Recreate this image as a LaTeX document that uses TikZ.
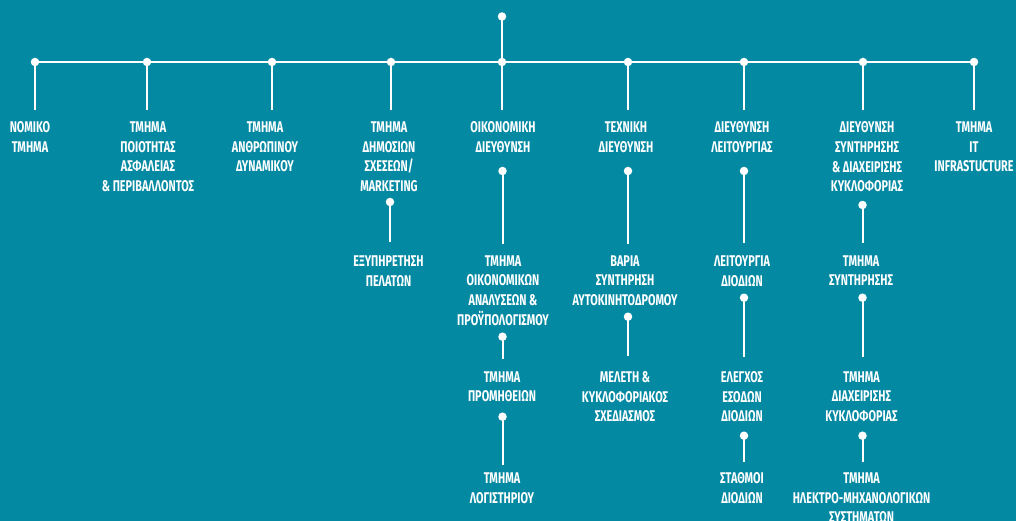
\documentclass[tikz,border=0pt]{standalone}
\usepackage{fontspec}
\setmainfont{Fira Sans}[FakeStretch=0.7]
\definecolor{bg}{RGB}{4,137,163}
\begin{document}
\begin{tikzpicture}[x=1pt,y=-1pt,
  dot/.style={circle,fill=white,inner sep=0pt,minimum size=8.5pt},
  conn/.style={draw=white,line width=2pt},
  lbl/.style={text=white,align=center,inner sep=0pt,anchor=north,
    font=\fontsize{15.5}{19.7}\selectfont\bfseries}]
\fill[bg] (0,0) rectangle (1016,521);
\useasboundingbox (0,0) rectangle (1016,521);

% top and bar
\node[dot] (top) at (502,16.5) {};
\node[dot] (b1) at (35,62) {};
\node[dot] (b2) at (147,62) {};
\node[dot] (b3) at (272,62) {};
\node[dot] (b4) at (391,62) {};
\node[dot] (b5) at (502,62) {};
\node[dot] (b6) at (628,62) {};
\node[dot] (b7) at (744,62) {};
\node[dot] (b8) at (863,62) {};
\node[dot] (b9) at (974,62) {};
\draw[conn] (top.center) -- (b5.center);
\draw[conn] (b1.center) -- (b9.center);
\foreach \i/\x in {1/35,2/147,3/272,4/391,5/502,6/628,7/744,8/863,9/974}{
  \coordinate (e\i) at (\x,110.5);
  \draw[conn] (b\i.center) -- (e\i);
}

% top-level labels
\node[lbl] (t1) at (30,121.6) {ΝΟΜΙΚΟ\\ΤΜΗΜΑ};
\node[lbl] (t2) at (148,121.6) {ΤΜΗΜΑ\\ΠΟΙΟΤΗΤΑΣ\\ΑΣΦΑΛΕΙΑΣ\\\& ΠΕΡΙΒΑΛΛΟΝΤΟΣ};
\node[lbl] (t3) at (265,121.6) {ΤΜΗΜΑ\\ΑΝΘΡΩΠΙΝΟΥ\\ΔΥΝΑΜΙΚΟΥ};
\node[lbl] (t4) at (389,121.6) {ΤΜΗΜΑ\\ΔΗΜΟΣΙΩΝ\\ΣΧΕΣΕΩΝ/\\MARKETING};
\node[lbl] (t5) at (503,121.6) {ΟΙΚΟΝΟΜΙΚΗ\\ΔΙΕΥΘΥΝΣΗ};
\node[lbl] (t6) at (626,121.6) {ΤΕΧΝΙΚΗ\\ΔΙΕΥΘΥΝΣΗ};
\node[lbl] (t7) at (742,121.6) {ΔΙΕΥΘΥΝΣΗ\\ΛΕΙΤΟΥΡΓΙΑΣ};
\node[lbl] (t8) at (867,121.6) {ΔΙΕΥΘΥΝΣΗ\\ΣΥΝΤΗΡΗΣΗΣ\\\& ΔΙΑΧΕΙΡΙΣΗΣ\\ΚΥΚΛΟΦΟΡΙΑΣ};
\node[lbl] (t9) at (974,121.6) {ΤΜΗΜΑ\\IT\\INFRASTUCTURE};

% sub-level labels
\node[lbl] (s4a) at (388.5,255.5) {ΕΞΥΠΗΡΕΤΗΣΗ\\ΠΕΛΑΤΩΝ};
\node[lbl] (s5a) at (503,255.3) {ΤΜΗΜΑ\\ΟΙΚΟΝΟΜΙΚΩΝ\\ΑΝΑΛΥΣΕΩΝ \&\\ΠΡΟΫΠΟΛΟΓΙΣΜΟΥ};
\node[lbl] (s5b) at (502,371.3) {ΤΜΗΜΑ\\ΠΡΟΜΗΘΕΙΩΝ};
\node[lbl] (s5c) at (502,472.6) {ΤΜΗΜΑ\\ΛΟΓΙΣΤΗΡΙΟΥ};
\node[lbl] (s6a) at (625,255.3) {ΒΑΡΙΑ\\ΣΥΝΤΗΡΗΣΗ\\ΑΥΤΟΚΙΝΗΤΟΔΡΟΜΟΥ};
\node[lbl] (s6b) at (625,371.3) {ΜΕΛΕΤΗ \&\\ΚΥΚΛΟΦΟΡΙΑΚΟΣ\\ΣΧΕΔΙΑΣΜΟΣ};
\node[lbl] (s7a) at (742,255.3) {ΛΕΙΤΟΥΡΓΙΑ\\ΔΙΟΔΙΩΝ};
\node[lbl] (s7b) at (742,371.3) {ΕΛΕΓΧΟΣ\\ΕΣΟΔΩΝ\\ΔΙΟΔΙΩΝ};
\node[lbl] (s7c) at (742,472.6) {ΣΤΑΘΜΟΙ\\ΔΙΟΔΙΩΝ};
\node[lbl] (s8a) at (861,255.3) {ΤΜΗΜΑ\\ΣΥΝΤΗΡΗΣΗΣ};
\node[lbl] (s8b) at (861.5,371.3) {ΤΜΗΜΑ\\ΔΙΑΧΕΙΡΙΣΗΣ\\ΚΥΚΛΟΦΟΡΙΑΣ};
\node[lbl] (s8c) at (861.5,472.6) {ΤΜΗΜΑ\\ΗΛΕΚΤΡΟ-ΜΗΧΑΝΟΛΟΓΙΚΩΝ\\ΣΥΣΤΗΜΑΤΩΝ};

% sub-level dots and connectors
\foreach \n/\x/\ya/\yb in {d4a/390/202/241.7, d5a/502.5/171/244, d6a/628/171/244,
  d7a/744/171/243, d8a/862.5/205/243, d5b/502.5/336.7/359, d5c/502.5/416.7/465,
  d6b/628/316.7/356, d7b/744/297.7/356.7, d8b/862.5/297.7/356.7,
  d7c/744/435.7/461.7, d8c/862.5/435.7/461.7}{
  \node[dot] (\n) at (\x,\ya) {};
  \coordinate (\n end) at (\x,\yb);
  \draw[conn] (\n.center) -- (\n end);
}
\end{tikzpicture}
\end{document}
